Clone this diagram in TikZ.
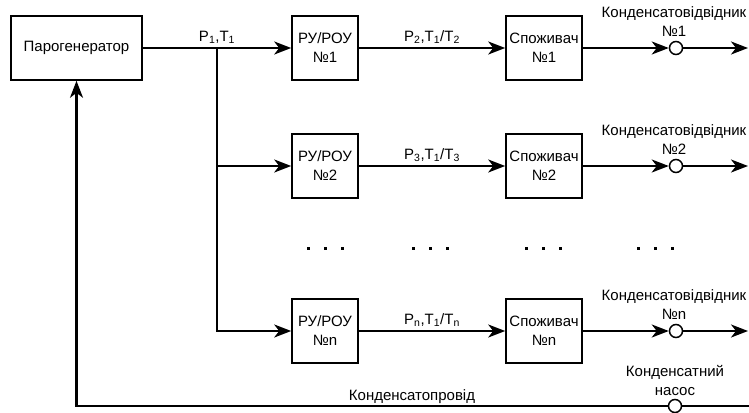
\documentclass[tikz,border=0pt]{standalone}
\usepackage{fontspec}
\setmainfont{Liberation Sans}
\usetikzlibrary{arrows.meta}

\tikzset{
  blok/.style={draw, line width=1.6pt, minimum height=64pt, align=center, inner sep=1pt,
    font=\fontsize{15}{19}\selectfont},
  pastka/.style={draw, circle, line width=1.5pt, minimum size=13pt, inner sep=0pt},
  potik/.style={line width=2.2pt, -{Stealth[length=17pt,width=13pt,inset=5pt]}},
  truba/.style={line width=2.2pt},
  napys/.style={font=\fontsize{15}{19}\selectfont, align=center, inner sep=1pt},
}

\begin{document}
\begin{tikzpicture}[x=1pt,y=-1pt]
\useasboundingbox (0,0) rectangle (749,412);

% Steam generator
\node[blok, minimum width=131pt] (pg) at (76.5,48) {Парогенератор};
\coordinate (br) at (217,48);

% Rows: RU/ROU, consumer, condensate trap
\foreach \yy/\nom/\idx in {48/1/2, 166/2/3, 331/n/n} {
    \node[blok, minimum width=66pt] (ru\nom) at (325,\yy) {РУ/РОУ\\№\nom};
    \node[blok, minimum width=76pt] (sp\nom) at (544,\yy) {Споживач\\№\nom};
    \node[pastka] (kv\nom) at (676,\yy) {};
    \coordinate (out\nom) at (748,\yy);
    \node[napys, anchor=south] (kvl\nom) at ([xshift=-2pt,yshift=3pt]kv\nom.north) {Конденсатовідвідник\\№\nom};
    \draw[potik] (ru\nom) -- node[napys, above=2pt] (par\nom)
        {P\textsubscript{\idx},T\textsubscript{1}/T\textsubscript{\idx}} (sp\nom);
    \draw[potik] (sp\nom) -- (kv\nom);
    \draw[potik] (kv\nom) -- (out\nom);
}

% Main steam line and branches
\draw[potik] (pg) -- node[napys, above=2pt] (par0) {P\textsubscript{1},T\textsubscript{1}} (ru1);
\draw[potik] (br) |- (ru2);
\draw[potik] (br) |- (run);

% Dots between rows
\foreach \x in {325,430,543,655} {
    \foreach \d in {-17,0,17} {
        \fill (\x+\d-1.5,246.5) rectangle ++(3,3);
    }
}

% Condensate return line
\node[pastka] (nasos) at (675,406) {};
\coordinate (vhid) at (749,406);
\node[napys, anchor=south] (nasl) at ([yshift=2pt]nasos.north) {Конденсатний\\насос};
\node[napys] (kpl) at (412,397) {Конденсатопровід};
\draw[truba] (vhid) -- (nasos);
\draw[potik] (nasos) -| (pg);

\end{tikzpicture}
\end{document}
